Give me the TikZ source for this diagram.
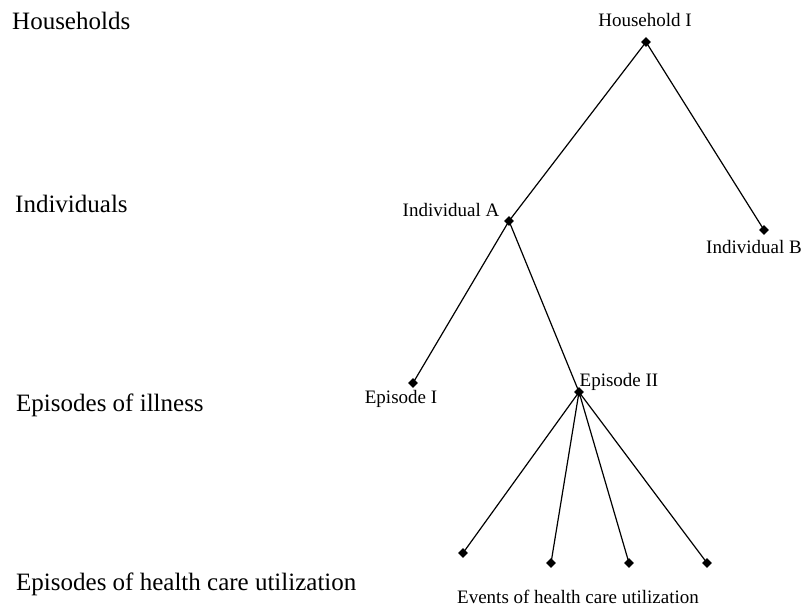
\documentclass[tikz,border=0pt]{standalone}
\usepackage{fontspec}
\setmainfont{Liberation Serif}
\usetikzlibrary{shapes.geometric}
\begin{document}
\begin{tikzpicture}[x=1pt,y=-1pt,
  dot/.style={diamond,fill=black,draw=none,inner sep=0pt,minimum size=10pt},
  level/.style={anchor=base west,inner sep=0pt,font=\fontsize{25}{30}\selectfont},
  lbl/.style={anchor=base,inner sep=0pt,font=\fontsize{19}{23}\selectfont},
  edge/.style={line width=1.2pt,black}]
\useasboundingbox (0,0) rectangle (803,608);
% level labels
\node[level] (l1) at (12,29) {Households};
\node[level] (l2) at (15,212) {Individuals};
\node[level] (l3) at (16,411) {Episodes of illness};
\node[level] (l4) at (16,590) {Episodes of health care utilization};
% tree nodes
\node[dot] (H) at (646,42) {};
\node[dot] (A) at (509,221) {};
\node[dot] (B) at (764,230) {};
\node[dot] (E1) at (413,383) {};
\node[dot] (E2) at (579,392) {};
\node[dot] (V1) at (463,553) {};
\node[dot] (V2) at (551,563) {};
\node[dot] (V3) at (629,563) {};
\node[dot] (V4) at (707,563) {};
% edges
\draw[edge] (H.center) -- (A.center);
\draw[edge] (H.center) -- (B.center);
\draw[edge] (A.center) -- (E1.center);
\draw[edge] (A.center) -- (E2.center);
\draw[edge] (E2.center) -- (V1.center);
\draw[edge] (E2.center) -- (V2.center);
\draw[edge] (E2.center) -- (V3.center);
\draw[edge] (E2.center) -- (V4.center);
% tree labels
\node[lbl] (tH) at (645,26) {Household I};
\node[lbl] (tA) at (451,216) {Individual A};
\node[lbl] (tB) at (754,253) {Individual B};
\node[lbl] (tE1) at (401,403) {Episode I};
\node[lbl] (tE2) at (619,386) {Episode II};
\node[lbl] (tV) at (578,603) {Events of health care utilization};
\end{tikzpicture}
\end{document}
